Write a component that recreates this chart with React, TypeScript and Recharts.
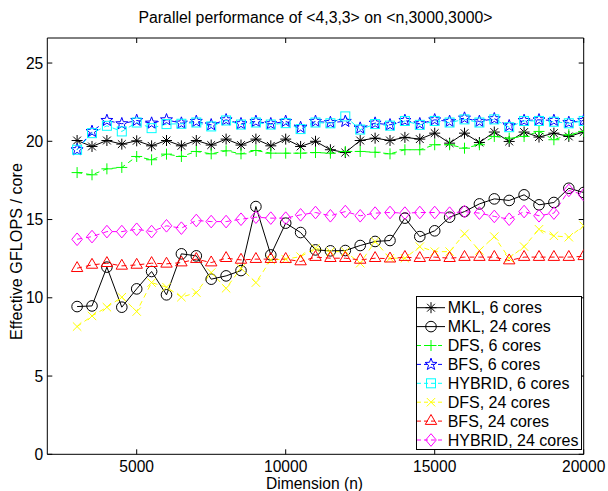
import React from 'react';
import { LineChart, Line, XAxis, YAxis, Legend } from 'recharts';

const dims = [3000, 3500, 4000, 4500, 5000, 5500, 6000, 6500, 7000, 7500, 8000, 8500, 9000, 9500, 10000, 10500, 11000, 11500, 12000, 12500, 13000, 13500, 14000, 14500, 15000, 15500, 16000, 16500, 17000, 17500, 18000, 18500, 19000, 19500, 20000];

const mkl6 = [20.05, 19.67, 20.05, 19.82, 20.03, 19.71, 20.05, 19.71, 20.05, 19.76, 20.14, 19.76, 20.14, 19.71, 20.14, 19.67, 20.0, 19.46, 19.28, 20.05, 20.2, 20.05, 20.25, 20.14, 20.52, 19.88, 20.52, 19.92, 20.59, 19.99, 20.59, 20.27, 20.52, 20.31, 20.59];
const mkl24 = [9.44, 9.48, 11.96, 9.4, 10.57, 11.68, 10.19, 12.81, 12.68, 11.19, 11.4, 11.74, 15.83, 12.74, 14.77, 14.17, 13.06, 13.0, 13.02, 13.34, 13.6, 13.66, 15.09, 13.91, 14.28, 15.15, 15.51, 16.0, 16.32, 16.22, 16.58, 15.94, 16.09, 17.0, 16.73];
const dfs6 = [18.0, 17.86, 18.24, 18.33, 19.03, 18.82, 19.18, 19.03, 19.35, 19.2, 19.39, 19.2, 19.41, 19.24, 19.24, 19.24, 19.28, 19.24, 19.35, 19.35, 19.3, 19.2, 19.46, 19.46, 19.78, 19.78, 19.56, 19.78, 20.31, 20.2, 20.31, 20.63, 20.1, 20.42, 20.63];
const bfs6 = [19.46, 20.63, 21.33, 21.12, 21.33, 21.16, 21.37, 21.16, 21.27, 21.05, 21.37, 21.12, 21.27, 21.12, 21.27, 20.88, 21.27, 21.2, 21.27, 20.84, 21.16, 21.05, 21.33, 21.12, 21.37, 21.27, 21.48, 21.27, 21.44, 20.99, 21.33, 21.37, 21.33, 21.2, 21.33];
const hybrid6 = [19.46, 20.52, 20.99, 20.63, 21.2, 20.84, 21.1, 21.12, 21.2, 20.95, 21.33, 21.07, 21.2, 21.07, 21.16, 20.78, 21.2, 21.15, 21.59, 20.75, 21.1, 21.0, 21.3, 21.05, 21.3, 21.2, 21.4, 21.2, 21.4, 20.9, 21.3, 21.3, 21.25, 21.15, 21.3];
const dfs24 = [8.16, 8.84, 9.4, 10.04, 9.12, 10.97, 10.68, 10.04, 10.33, 11.61, 10.61, 11.89, 10.97, 12.42, 12.47, 12.63, 13.17, 12.95, 12.95, 12.21, 13.6, 12.53, 12.53, 13.27, 12.95, 12.95, 14.09, 13.02, 13.91, 12.53, 13.27, 14.38, 13.96, 13.87, 14.6];
const bfs24 = [11.89, 12.1, 12.21, 12.04, 12.1, 12.21, 12.17, 12.25, 12.47, 12.25, 12.53, 12.42, 12.47, 12.47, 12.47, 12.32, 12.6, 12.53, 12.53, 12.42, 12.53, 12.5, 12.6, 12.53, 12.6, 12.53, 12.6, 12.6, 12.6, 12.38, 12.6, 12.6, 12.6, 12.6, 12.65];
const hybrid24 = [13.74, 13.91, 14.23, 14.23, 14.38, 14.23, 14.6, 14.45, 14.94, 14.87, 14.87, 15.02, 15.15, 15.09, 15.09, 15.3, 15.45, 15.24, 15.51, 15.24, 15.41, 15.45, 15.41, 15.45, 15.45, 15.41, 15.51, 15.41, 15.2, 15.02, 15.51, 15.24, 15.41, 16.86, 16.58];

const seriesNames = ['MKL, 6 cores', 'MKL, 24 cores', 'DFS, 6 cores', 'BFS, 6 cores', 'HYBRID, 6 cores', 'DFS, 24 cores', 'BFS, 24 cores', 'HYBRID, 24 cores'];
const xTicks = [5000, 10000, 15000, 20000];
const yTicks = [0, 5, 10, 15, 20, 25];
const titleText = 'Parallel performance of <4,3,3> on <n,3000,3000>';
const xLabel = 'Dimension (n)';
const yLabel = 'Effective GFLOPS / core';

const seriesValues = [mkl6, mkl24, dfs6, bfs6, hybrid6, dfs24, bfs24, hybrid24];
const keys = ['mkl6', 'mkl24', 'dfs6', 'bfs6', 'hybrid6', 'dfs24', 'bfs24', 'hybrid24'];
const colors = ['#000000', '#000000', '#00ff00', '#0000ff', '#00ffff', '#ffff00', '#ff0000', '#ff00ff'];
const shapes = ['asterisk', 'circle', 'plus', 'pentagram', 'square', 'cross', 'triangle', 'diamond'];
const dashed = [false, false, true, true, true, true, true, true];

const data = dims.map((n, i) => {
  const row: any = { n };
  keys.forEach((k, j) => { row[k] = seriesValues[j][i]; });
  return row;
});

const FONT = '"Liberation Sans", Arial, Helvetica, sans-serif';
const DASH = '5 4';

function Marker({ shape, cx, cy, color }: { shape: string; cx: number; cy: number; color: string }) {
  const common = { stroke: color, strokeWidth: 1, fill: 'none' };
  switch (shape) {
    case 'asterisk': {
      const r = 5.5, d = r * 0.707;
      return (
        <g {...common}>
          <line x1={cx - r} y1={cy} x2={cx + r} y2={cy} />
          <line x1={cx} y1={cy - r} x2={cx} y2={cy + r} />
          <line x1={cx - d} y1={cy - d} x2={cx + d} y2={cy + d} />
          <line x1={cx - d} y1={cy + d} x2={cx + d} y2={cy - d} />
        </g>
      );
    }
    case 'circle':
      return <circle cx={cx} cy={cy} r={5.3} {...common} />;
    case 'plus': {
      const r = 5.5;
      return (
        <g {...common}>
          <line x1={cx - r} y1={cy} x2={cx + r} y2={cy} />
          <line x1={cx} y1={cy - r} x2={cx} y2={cy + r} />
        </g>
      );
    }
    case 'pentagram': {
      const ro = 6.3, ri = 2.6;
      const pts: string[] = [];
      for (let k = 0; k < 10; k++) {
        const r = k % 2 === 0 ? ro : ri;
        const a = -Math.PI / 2 + (k * Math.PI) / 5;
        pts.push(`${cx + r * Math.cos(a)},${cy + r * Math.sin(a)}`);
      }
      return <polygon points={pts.join(' ')} {...common} />;
    }
    case 'square':
      return <rect x={cx - 4.5} y={cy - 4.5} width={9} height={9} {...common} />;
    case 'cross': {
      const r = 4.2;
      return (
        <g {...common}>
          <line x1={cx - r} y1={cy - r} x2={cx + r} y2={cy + r} />
          <line x1={cx - r} y1={cy + r} x2={cx + r} y2={cy - r} />
        </g>
      );
    }
    case 'triangle': {
      const r = 6.6;
      return <polygon points={`${cx},${cy - r} ${cx + r * 0.866},${cy + r * 0.5} ${cx - r * 0.866},${cy + r * 0.5}`} {...common} />;
    }
    case 'diamond':
      return <polygon points={`${cx},${cy - 6.3} ${cx + 5.3},${cy} ${cx},${cy + 6.3} ${cx - 5.3},${cy}`} {...common} />;
    default:
      return null;
  }
}

const makeDot = (shape: string, color: string) => (p: any) => {
  if (p.cx == null || p.cy == null) return <g key={p.index} />;
  return <Marker key={p.index} shape={shape} cx={p.cx} cy={p.cy} color={color} />;
};

const LeftTick = (p: any) => (
  <g>
    <line x1={p.x} x2={p.x + 5} y1={p.y} y2={p.y} stroke="#000" strokeWidth={1} />
    <text x={p.x - 4} y={p.y} textAnchor="end" dominantBaseline="central" fontSize={15.6} fontFamily={FONT} fill="#000">{p.payload.value}</text>
  </g>
);
const RightTick = (p: any) => (
  <line x1={p.x} x2={p.x - 5} y1={p.y} y2={p.y} stroke="#000" strokeWidth={1} />
);
const BottomTick = (p: any) => (
  <g>
    <line x1={p.x} x2={p.x} y1={p.y} y2={p.y - 5} stroke="#000" strokeWidth={1} />
    <text x={p.x} y={p.y + 18} textAnchor="middle" fontSize={15.6} fontFamily={FONT} fill="#000">{p.payload.value}</text>
  </g>
);
const TopTick = (p: any) => (
  <line x1={p.x} x2={p.x} y1={p.y} y2={p.y + 5} stroke="#000" strokeWidth={1} />
);

const renderLegend = () => (
  <div style={{ width: 166, height: 154, background: '#fff', border: '1px solid #000', boxSizing: 'border-box' }}>
    <svg width={164} height={152} style={{ display: 'block' }}>
      {seriesNames.map((name, i) => {
        const y = 10.7 + 18.9 * i;
        return (
          <g key={name}>
            <line x1={0} x2={28} y1={y} y2={y} stroke={colors[i]} strokeWidth={1} strokeDasharray={dashed[i] ? '4 3' : undefined} />
            <Marker shape={shapes[i]} cx={14} cy={y} color={colors[i]} />
            <text x={30.7} y={y} dominantBaseline="central" fontSize={16} fontFamily={FONT} fill="#000">{name}</text>
          </g>
        );
      })}
    </svg>
  </div>
);

export default function App() {
  return (
    <div style={{ position: 'absolute', left: 0, top: 0, width: 608, height: 491, background: '#fff', fontFamily: FONT }}>
      <LineChart width={608} height={491} data={data} margin={{ top: 37, right: 23.3, bottom: 35.7, left: 46.3 }}>
        <XAxis xAxisId="b" dataKey="n" type="number" domain={[2000, 20000]} ticks={xTicks} orientation="bottom" height={1} tickSize={0} tickMargin={0} tick={<BottomTick />} axisLine={{ stroke: '#000', strokeWidth: 1 }} allowDataOverflow interval={0} />
        <XAxis xAxisId="t" dataKey="n" type="number" domain={[2000, 20000]} ticks={xTicks} orientation="top" height={1} tickSize={0} tickMargin={0} tick={<TopTick />} axisLine={{ stroke: '#000', strokeWidth: 1 }} allowDataOverflow interval={0} />
        <YAxis yAxisId="l" type="number" domain={[0, 26.6]} ticks={yTicks} orientation="left" width={1} tickSize={0} tickMargin={0} tick={<LeftTick />} axisLine={{ stroke: '#000', strokeWidth: 1 }} allowDataOverflow interval={0} />
        <YAxis yAxisId="r" type="number" domain={[0, 26.6]} ticks={yTicks} orientation="right" width={1} tickSize={0} tickMargin={0} tick={<RightTick />} axisLine={{ stroke: '#000', strokeWidth: 1 }} allowDataOverflow interval={0} />
        {keys.map((k, i) => (
          <Line
            key={k}
            xAxisId="b"
            yAxisId="l"
            dataKey={k}
            name={seriesNames[i]}
            type="linear"
            stroke={colors[i]}
            strokeWidth={1}
            strokeDasharray={dashed[i] ? DASH : undefined}
            dot={makeDot(shapes[i], colors[i])}
            activeDot={false}
            isAnimationActive={false}
          />
        ))}
        <Legend layout="vertical" align="center" verticalAlign="middle" content={renderLegend} wrapperStyle={{ position: 'absolute', left: 416, top: 296, width: 166, height: 154 }} />
        <text x={315.5} y={23} textAnchor="middle" fontSize={15.8} fontFamily={FONT} fill="#000">{titleText}</text>
        <text x={314.5} y={489} textAnchor="middle" fontSize={15.6} fontFamily={FONT} fill="#000">{xLabel}</text>
        <text x={21.5} y={251.5} textAnchor="middle" fontSize={16.2} fontFamily={FONT} fill="#000" transform="rotate(-90 21.5 251.5)">{yLabel}</text>
      </LineChart>
    </div>
  );
}
